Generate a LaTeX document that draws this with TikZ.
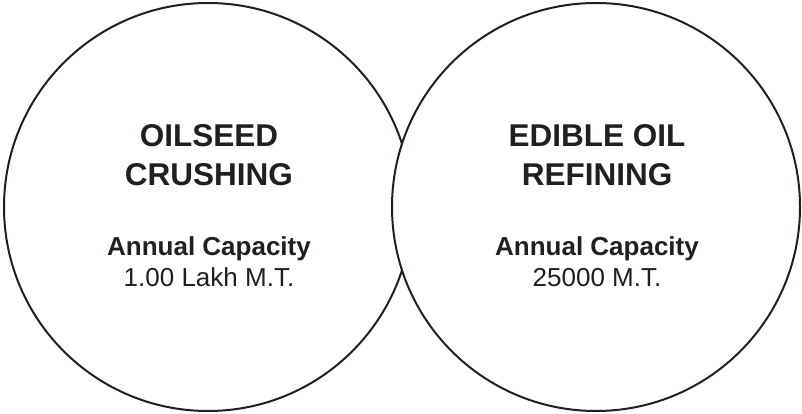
\documentclass[tikz,border=0pt]{standalone}
\usepackage{fontspec}
\setmainfont{Liberation Sans}
\usepackage{tikz}
\definecolor{ink}{HTML}{231F20}
\tikzset{
	head/.style={anchor=base,font=\bfseries\fontsize{31.5}{39}\selectfont,text=ink,inner sep=0pt},
	caplabel/.style={anchor=base,font=\bfseries\fontsize{26}{31}\selectfont,text=ink,inner sep=0pt},
	capvalue/.style={anchor=base,font=\fontsize{26}{31}\selectfont,text=ink,inner sep=0pt}
}
\begin{document}
\begin{tikzpicture}[x=1pt,y=1pt]
	\useasboundingbox (0,0) rectangle (802,413);
	\draw[ink,line width=2pt] (208,206) circle(204);
	\draw[ink,line width=2pt,fill=white] (596,206) circle(204);
	% left circle
	\node[head] (crush1) at (209,267){OILSEED};
	\node[head] (crush2) at (209,228){CRUSHING};
	\node[caplabel] (capl) at (209,158){Annual Capacity};
	\node[capvalue] (valL) at (209,127){1.00 Lakh M.T.};
	% right circle
	\node[head] (refine1) at (597,267){EDIBLE OIL};
	\node[head] (refine2) at (597,228){REFINING};
	\node[caplabel] (capr) at (597,158){Annual Capacity};
	\node[capvalue] (valR) at (597,127){25000 M.T.};
\end{tikzpicture}
\end{document}
